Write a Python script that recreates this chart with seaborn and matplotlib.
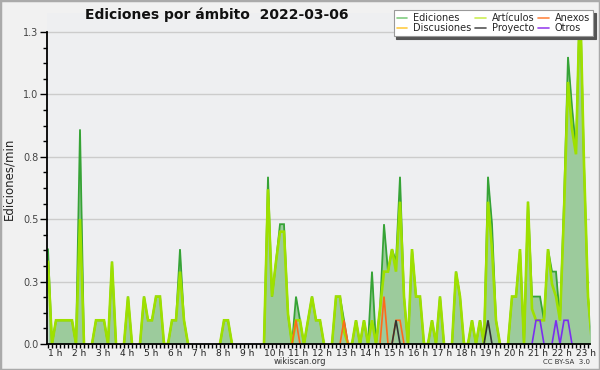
import numpy as np
import pandas as pd
import matplotlib
matplotlib.use("Agg")
import matplotlib.pyplot as plt
import matplotlib.transforms as mtransforms
from matplotlib.patches import Rectangle
from matplotlib.lines import Line2D
import seaborn as sns

TITLE = "Ediciones por ámbito  2022-03-06"
Y_LABEL = "Ediciones/min"
HOUR_LABELS = [f"{h} h" for h in range(1, 24)]
Y_TICKS = [0.0, 0.25, 0.5, 0.75, 1.0, 1.25]
Y_TICK_LABELS = ["0.0", "0.3", "0.5", "0.8", "1.0", "1.3"]
SLOT_MIN = 10  # one value per 10 minutes, first slot at 1 h

# edits/min per 10-minute slot (12 slots = 2 hours per row)
ediciones = [
    0.38, 0, 0.095, 0.095, 0.095, 0.095, 0.095, 0, 0.86, 0, 0, 0,
    0.095, 0.095, 0.095, 0, 0.33, 0, 0, 0, 0.19, 0, 0, 0,
    0.19, 0.095, 0.095, 0.19, 0.19, 0, 0, 0.095, 0.095, 0.38, 0.095, 0,
    0, 0, 0, 0, 0, 0, 0, 0, 0.095, 0.095, 0, 0,
    0, 0, 0, 0, 0, 0, 0, 0.67, 0.19, 0.33, 0.48, 0.48,
    0.12, 0, 0.19, 0.095, 0, 0.095, 0.19, 0.095, 0.095, 0, 0, 0,
    0.19, 0.19, 0.095, 0, 0, 0.095, 0, 0.095, 0, 0.29, 0, 0.14,
    0.48, 0.29, 0.38, 0.33, 0.67, 0.19, 0, 0.38, 0.19, 0.19, 0, 0,
    0.095, 0, 0.19, 0, 0, 0, 0.29, 0.19, 0, 0, 0.095, 0,
    0.095, 0, 0.67, 0.48, 0.095, 0, 0, 0, 0.19, 0.19, 0.38, 0,
    0.57, 0.19, 0.19, 0.19, 0.095, 0.38, 0.29, 0.29, 0.095, 0.57, 1.15, 0.95,
    0.78, 1.4, 0.72, 0.19, 0,
]
articulos = [
    0.33, 0, 0.095, 0.095, 0.095, 0.095, 0.095, 0, 0.5, 0, 0, 0,
    0.095, 0.095, 0.095, 0, 0.33, 0, 0, 0, 0.19, 0, 0, 0,
    0.19, 0.095, 0.095, 0.19, 0.19, 0, 0, 0.095, 0.095, 0.29, 0.095, 0,
    0, 0, 0, 0, 0, 0, 0, 0, 0.095, 0.095, 0, 0,
    0, 0, 0, 0, 0, 0, 0, 0.62, 0.19, 0.33, 0.45, 0.45,
    0.12, 0, 0.095, 0.095, 0, 0.095, 0.19, 0.095, 0.095, 0, 0, 0,
    0.19, 0.19, 0.05, 0, 0, 0.095, 0, 0.095, 0, 0.095, 0, 0.14,
    0.29, 0.29, 0.38, 0.29, 0.57, 0.19, 0, 0.38, 0.19, 0.19, 0, 0,
    0.095, 0, 0.19, 0, 0, 0, 0.29, 0.19, 0, 0, 0.095, 0,
    0.095, 0, 0.57, 0.38, 0.095, 0, 0, 0, 0.19, 0.19, 0.38, 0,
    0.57, 0.14, 0.095, 0.095, 0.095, 0.38, 0.24, 0.19, 0.095, 0.53, 1.05, 0.86,
    0.76, 1.4, 0.72, 0.19, 0,
]
# sparse series: slot -> edits/min
anexos = {62: 0.095, 74: 0.095, 84: 0.19, 87: 0.095, 88: 0.095}
proyecto = {87: 0.095, 110: 0.095}
otros = {122: 0.095, 123: 0.095, 127: 0.095, 129: 0.095, 130: 0.095}
discusiones = {}

LEGEND = [
    ("Ediciones", "#80cc80"), ("Discusiones", "#ffcc44"),
    ("Artículos", "#ccee55"), ("Proyecto", "#555555"),
    ("Anexos", "#ff8844"), ("Otros", "#9944ee"),
]

n = len(ediciones)
hours = 1 + np.arange(n) * SLOT_MIN / 60


def expand(d):
    v = np.zeros(n)
    for k, val in d.items():
        v[k] = val
    return v


def hide_flat_zero(v):
    # keep only the parts of a series that leave the baseline
    v = np.asarray(v, dtype=float)
    nz = v > 0
    keep = nz.copy()
    keep[1:] |= nz[:-1]
    keep[:-1] |= nz[1:]
    return np.where(keep, v, np.nan)


df = pd.DataFrame({
    "hora": hours,
    "Ediciones": ediciones,
    "Artículos": articulos,
    "Anexos": expand(anexos),
    "Proyecto": expand(proyecto),
    "Otros": expand(otros),
    "Discusiones": expand(discusiones),
})

sns.set_theme(style="white")
plt.rcParams["font.family"] = ["DejaVu Sans"]

fig = plt.figure(figsize=(6, 3.7), dpi=100, facecolor="#f1f1f1")
ax = fig.add_axes([47 / 600, 1 - 344 / 370, 543 / 600, 331 / 370])
ax.set_facecolor("#eeeff1")

ax.fill_between(df["hora"], 0, df["Ediciones"], color="#9ccb9c", lw=0, zorder=1)

series = [
    ("Ediciones", "#36a336", 1.3),
    ("Artículos", "#9ee000", 1.9),
    ("Discusiones", "#ffcc44", 1.2),
    ("Anexos", "#ff6a1a", 1.2),
    ("Proyecto", "#333333", 1.2),
    ("Otros", "#7a2ef0", 1.2),
]
for i, (col, color, lw) in enumerate(series):
    y = hide_flat_zero(df[col])
    if np.all(np.isnan(y)):
        continue
    ax.plot(df["hora"], y, color=color, lw=lw, zorder=2 + i * 0.01,
            solid_joinstyle="miter")

x0 = 1 - 0.25 / 6
x1 = 1 + 135.5 / 6
ax.set_xlim(x0, x1)
ax.set_ylim(0, 1.25 * 331 / 312)

ax.set_yticks(Y_TICKS)
ax.set_yticklabels(Y_TICK_LABELS)
ax.set_yticks(np.arange(0, 1.2501, 0.0625), minor=True)
ax.set_xticks(range(1, 24))
ax.set_xticklabels(HOUR_LABELS)
ax.set_xticks(1 + np.arange(0, 136) / 6, minor=True)

ax.tick_params(axis="y", which="major", length=5, width=1, color="black",
               labelsize=7, labelcolor="#444444", pad=1, left=True)
ax.tick_params(axis="y", which="minor", length=3, width=1, color="black", left=True)
ax.tick_params(axis="x", which="both", length=3, width=1, color="black",
               labelsize=6.5, labelcolor="#222222", pad=0.5, bottom=True)
shift = mtransforms.ScaledTranslation(0.5 / 100, 0, fig.dpi_scale_trans)
for lab in ax.get_xticklabels():
    lab.set_horizontalalignment("left")
    lab.set_transform(lab.get_transform() + shift)

for y in Y_TICKS[1:]:
    ax.axhline(y, color="#cccccc", lw=1, zorder=0.5)

for s in ["top", "right"]:
    ax.spines[s].set_visible(False)
ax.spines["left"].set_bounds(0, 1.25)
for s in ["left", "bottom"]:
    ax.spines[s].set_color("black")
    ax.spines[s].set_linewidth(1.3)
    ax.spines[s].set_zorder(5)

ax.set_ylabel(Y_LABEL, fontsize=8.5, color="#222222", labelpad=6)
ax.set_xlabel("")

fig.text(85 / 600, 1 - 15 / 370, TITLE, ha="left", va="center",
         fontsize=10, fontweight="bold", color="#111111")
fig.text(300 / 600, 1 - 362 / 370, "wikiscan.org", ha="center", va="center",
         fontsize=6, color="#333333")
fig.text(590 / 600, 1 - 362 / 370, "CC BY-SA  3.0", ha="right", va="center",
         fontsize=5, color="#333333")

handles = [Line2D([0], [0], color=c, lw=1.2) for _, c in LEGEND]
leg = fig.legend(handles, [l for l, _ in LEGEND], ncol=3, fontsize=7,
                 loc="upper right", bbox_to_anchor=(593 / 600, 1 - 10 / 370),
                 frameon=True, fancybox=False, shadow={"color": "#555555", "alpha": 1},
                 handlelength=1.1, handletextpad=0.6, columnspacing=0.4,
                 labelspacing=0.05, borderpad=0.3, borderaxespad=0)
leg.get_frame().set_edgecolor("#999999")
leg.get_frame().set_facecolor("#ffffff")
leg.get_frame().set_linewidth(0.8)

fig.patches.append(Rectangle((0, 0), 1, 1, transform=fig.transFigure,
                             fill=False, edgecolor="#aaaaaa", lw=2.5))

fig.savefig("out.png", dpi=100, facecolor=fig.get_facecolor())
